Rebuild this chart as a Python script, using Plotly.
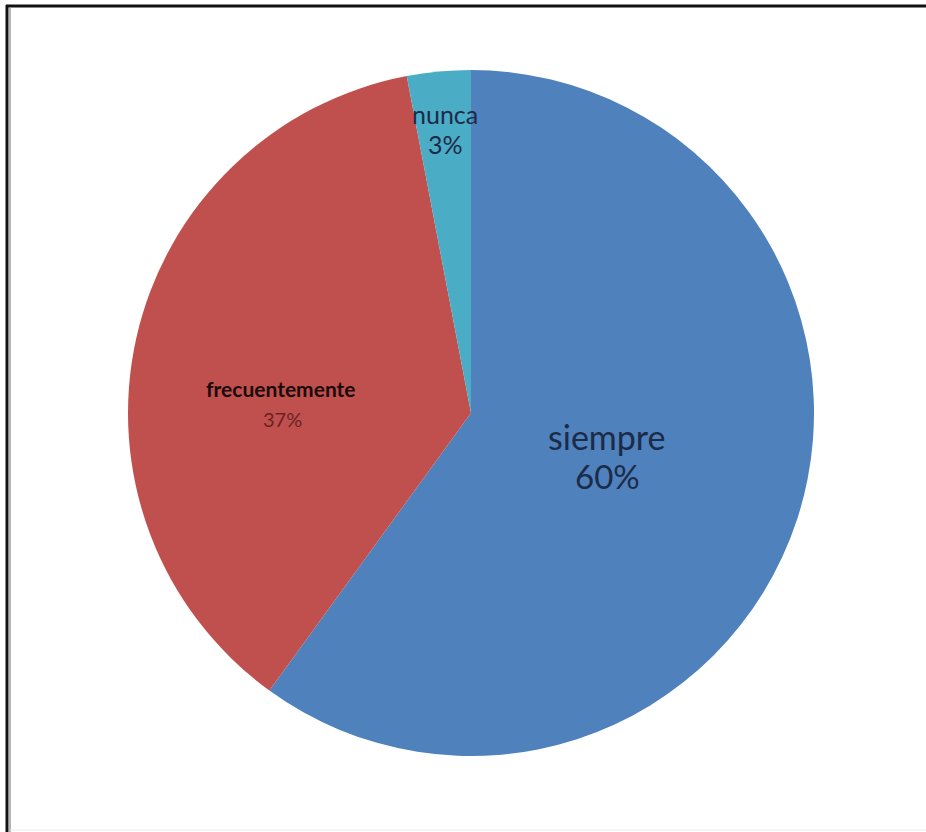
import plotly.graph_objects as go

# Response categories and their shares (%)
labels = ["siempre", "frecuentemente", "nunca"]
values = [60, 37, 3]
colors = ["#4F81BD", "#C0504D", "#4BACC6"]

W, H = 926, 832
cx, cy, R = 471, 413, 343  # pie centre and radius in pixels

fig = go.Figure(
    go.Pie(
        labels=labels,
        values=values,
        sort=False,
        direction="clockwise",
        rotation=0,
        marker=dict(colors=colors, line=dict(width=0)),
        textinfo="none",
        hoverinfo="label+percent",
        showlegend=False,
        domain=dict(x=[(cx - R) / W, (cx + R) / W], y=[1 - (cy + R) / H, 1 - (cy - R) / H]),
    )
)

font = "Lato, 'Open Sans', sans-serif"


def label(x, y, text, size, color):
    return dict(x=x / W, y=1 - y / H, text=text, xref="paper", yref="paper",
                showarrow=False, xanchor="center", yanchor="middle",
                font=dict(family=font, size=size, color=color))


annotations = [
    # siempre
    label(607, 436, labels[0], 34, "#1B2B48"),
    label(607, 476, f"{values[0]}%", 33, "#1B2B48"),
    # frecuentemente
    label(281, 388, f"<b>{labels[1]}</b>", 21, "#1A0A0A"),
    label(282, 419, f"{values[1]}%", 20, "#6A2322"),
    # nunca
    label(445, 114, labels[2], 25, "#1B2B48"),
    label(445, 144, f"{values[2]}%", 25, "#1B2B48"),
]

# outer frame: dark line with a lighter inner line
shapes = [
    dict(type="line", xref="paper", yref="paper", x0=7 / W, x1=7 / W, y0=0, y1=1 - 5 / H,
         line=dict(color="#111111", width=3)),
    dict(type="line", xref="paper", yref="paper", x0=6 / W, x1=1, y0=1 - 6 / H, y1=1 - 6 / H,
         line=dict(color="#111111", width=3)),
    dict(type="line", xref="paper", yref="paper", x0=10 / W, x1=10 / W, y0=0, y1=1 - 8 / H,
         line=dict(color="#B5B5B5", width=2)),
    dict(type="line", xref="paper", yref="paper", x0=10 / W, x1=1, y0=2 / H, y1=2 / H,
         line=dict(color="#EBEBEB", width=1)),
]

fig.update_layout(
    width=W,
    height=H,
    margin=dict(l=0, r=0, t=0, b=0),
    paper_bgcolor="white",
    plot_bgcolor="white",
    annotations=annotations,
    shapes=shapes,
)

fig.write_html("out.html")
